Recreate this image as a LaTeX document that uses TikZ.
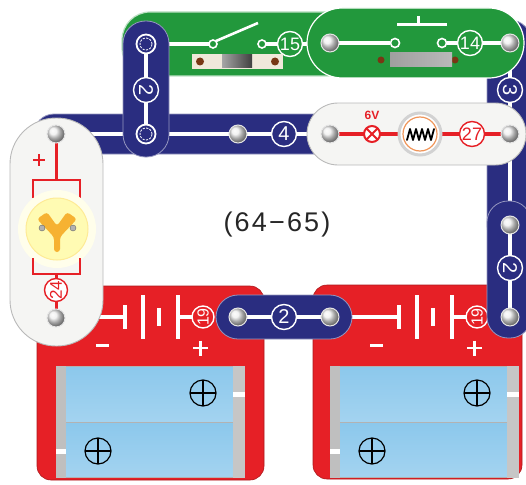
\documentclass[tikz,border=0pt]{standalone}
\usepackage{fontspec}
\setmainfont{Liberation Sans}
\definecolor{navy}{RGB}{42,45,128}
\definecolor{pgreen}{RGB}{34,152,60}
\definecolor{pred}{RGB}{230,32,38}
\definecolor{pwhite}{RGB}{245,245,243}
\definecolor{cellblue}{RGB}{140,200,236}
\definecolor{lampring}{RGB}{240,150,90}
\definecolor{fanorange}{RGB}{246,178,50}
\definecolor{beige}{RGB}{240,232,218}
\definecolor{rivet}{RGB}{120,55,20}
% metal snap seen from above
\newcommand{\silversnap}[1]{%
  \shadedraw[ball color=gray!14, draw=white!80!gray, line width=1pt] (#1) circle[radius=9pt];}
% snap ring on a piece that sits on top
\newcommand{\ringsnap}[1]{%
  \draw[white, line width=1.8pt, fill=navy] (#1) circle[radius=9.5pt];
  \draw[white, line width=0.8pt, dash pattern=on 2.2pt off 1.3pt] (#1) circle[radius=6pt];}
% polarity mark on a cell
\newcommand{\plusmark}[1]{%
  \draw[black, line width=1.2pt] (#1) circle[radius=13pt];
  \draw[black, line width=1.2pt] ($(#1)+(-13,0)$) -- ($(#1)+(13,0)$)
       ($(#1)+(0,-13)$) -- ($(#1)+(0,13)$);}
\usetikzlibrary{calc}
\begin{document}
\begin{tikzpicture}[x=1pt,y=-1pt,
  blueboard/.style={fill=navy, draw=navy!50!white, line width=0.8pt},
  greenboard/.style={fill=pgreen, draw=white!70!pgreen, line width=1.2pt},
  whiteboard/.style={fill=pwhite, draw=gray!55, line width=0.9pt},
  redboard/.style={fill=pred, draw=pred!75!black, line width=0.6pt},
  wtrace/.style={draw=white, line width=3.4pt},
  rtrace/.style={draw=pred, line width=3.4pt},
  badge/.style={circle, inner sep=0pt, minimum size=25pt, line width=1.4pt,
    font=\fontsize{20}{20}\selectfont},
  twodigit/.style={font=\fontsize{18}{18}\selectfont},
  bluebadge/.style={badge, draw=white, fill=navy, text=white},
  greenbadge/.style={badge, draw=white, fill=pgreen, text=white},
  redbadge/.style={badge, draw=pred, fill=white, text=pred},
  batbadge/.style={badge, draw=white, fill=pred, text=white, minimum size=22pt,
    font=\fontsize{16}{16}\selectfont},
]
\useasboundingbox (0,0) rectangle (526,484);

% ---------- battery holders (19) ----------
\draw[redboard, rounded corners=14pt] (37,286) rectangle (264,480);
\draw[redboard, rounded corners=14pt] (313,285) rectangle (522,479);
\foreach \bx/\nm in {56/left, 330/right}{
  \begin{scope}[shift={(\bx,0)}]
    % cells
    \fill[gray!60] (0,366) rectangle (189,478);
    \shade[top color=cellblue, middle color=white, bottom color=cellblue!80!white]
      (10,367) rectangle (177,421);
    \shade[top color=cellblue, middle color=white, bottom color=cellblue!80!white]
      (10,423) rectangle (177,476);
    \fill[gray!45] (177,366) rectangle (189,478);
    \fill[gray!50] (0,366) rectangle (10,478);
    \fill[white] (177,392) rectangle (189,397);
    \fill[white] (0,449) rectangle (10,454);
    \plusmark{147,393}
    \plusmark{42,451}
    % battery symbol
    \draw[wtrace] (0,317) -- (69,317);
    \draw[white, line width=4.5pt] (69,305) -- (69,329);
    \draw[white, line width=4.5pt] (87,295) -- (87,339);
    \draw[white, line width=4.5pt] (103,308) -- (103,326);
    \draw[white, line width=4.5pt] (122,295) -- (122,339);
    \draw[wtrace] (122,317) -- (136,317);
    \node[batbadge, rotate=90] (b19\nm) at (147,317) {19};
    \draw[white, line width=3pt] (40,345) -- (53,345);
    \draw[white, line width=2.6pt] (137,348) -- (152,348) (144.5,340.5) -- (144.5,355.5);
  \end{scope}
}

% ---------- right column, 3-piece ----------
\draw[blueboard, rounded corners=21pt] (487,20) rectangle (531,247);
\draw[wtrace] (510,43) -- (510,225);
\node[bluebadge, rotate=-90] (w3) at (510,90) {3};

% ---------- 4-piece ----------
\draw[blueboard, rounded corners=20pt] (34,114) rectangle (352,154);
\draw[wtrace] (56,134) -- (330,134);
\silversnap{238,134}
\node[bluebadge] (w4) at (284,134) {4};

% ---------- slide switch (15) ----------
\draw[greenboard, rounded corners=28pt] (122,12) rectangle (355,76);
\draw[wtrace] (146,44) -- (209,44);
\draw[white, line width=1.6pt] (213,44) circle[radius=4pt];
\draw[white, line width=2.6pt] (216,41) -- (258,23);
\draw[white, line width=1.6pt] (262,44) circle[radius=4pt];
\draw[wtrace] (266,44) -- (330,44);
\node[greenbadge, twodigit] (s15) at (290,44) {15};
\fill[beige] (192,54) rectangle (283,69);
\fill[rivet] (200,61.5) circle[radius=4pt];
\fill[rivet] (275,61.5) circle[radius=4pt];
\shade[left color=gray!70, right color=black!75] (222,55) rectangle (252,68);

% ---------- 2-piece, top left ----------
\draw[blueboard, rounded corners=22.5pt] (123,21) rectangle (169,157);
\draw[wtrace] (146,44) -- (146,134);
\ringsnap{146,44}
\ringsnap{146,134}
\node[bluebadge, rotate=-90] (w2a) at (146,90) {2};

% ---------- press switch (14) ----------
\draw[greenboard, draw=white, rounded corners=35pt] (307,8) rectangle (524,78);
\draw[wtrace] (330,43) -- (390,43);
\draw[white, line width=1.6pt] (395,43) circle[radius=4.5pt];
\draw[white, line width=1.6pt] (442,43) circle[radius=4.5pt];
\draw[wtrace] (447,43) -- (510,43);
\draw[white, line width=3pt] (397,25) -- (447,25);
\draw[white, line width=3pt] (418,16) -- (418,25);
\node[greenbadge, twodigit] (s14) at (470,43) {14};
\fill[rivet] (381,60) circle[radius=3.5pt];
\fill[rivet] (455,60) circle[radius=3.5pt];
\shade[left color=gray!75, middle color=white!90!gray, right color=gray!55] (390,53) rectangle (452,67);
\silversnap{330,43}
\silversnap{510,43}

% ---------- lamp / holder piece (27) ----------
\draw[whiteboard, rounded corners=31pt] (307,103) rectangle (526,165);
\draw[rtrace] (330,134) -- (400,134);
\draw[rtrace] (440,134) -- (510,134);
\draw[pred, line width=2pt, fill=white] (372,134) circle[radius=8pt];
\draw[pred, line width=2pt] (366.3,128.3) -- (377.7,139.7) (366.3,139.7) -- (377.7,128.3);
\node[text=pred, font=\bfseries\fontsize{12}{12}\selectfont] (v6) at (372,115) {6V};
\draw[gray!35, line width=3pt, fill=white] (420,134) circle[radius=21pt];
\draw[lampring, line width=1.2pt] (420,134) circle[radius=17pt];
\draw[black, line width=1.8pt, line join=round, line cap=round]
  (407,140) -- (410,129) -- (413,140) -- (416,129) -- (419,140) -- (422,129)
  -- (425,140) -- (428,129) -- (431,140) -- (434,129);
\node[redbadge, twodigit] (l27) at (472,134) {27};
\silversnap{330,134}
\silversnap{510,134}

% ---------- 2-piece, right ----------
\draw[blueboard, rounded corners=21pt] (487,201) rectangle (531,338);
\draw[wtrace] (510,225) -- (510,317);
\silversnap{510,225}
\silversnap{510,317}
\node[bluebadge, rotate=-90] (w2b) at (510,268) {2};

% ---------- 2-piece, bottom ----------
\draw[blueboard, rounded corners=22pt] (216,295) rectangle (352,339);
\draw[wtrace] (238,317) -- (330,317);
\silversnap{238,317}
\silversnap{330,317}
\node[bluebadge] (w2c) at (284,317) {2};

% ---------- motor (24) ----------
\draw[whiteboard, rounded corners=46pt] (10,118) rectangle (103,346);
\draw[pred, line width=3pt] (56,134) -- (56,180);
\draw[pred, line width=2.6pt] (33,198) -- (33,180) -- (80,180) -- (80,198);
\draw[pred, line width=2pt] (33,160) -- (45,160) (39,154) -- (39,166);
\fill[yellow!8!white] (57,229) circle[radius=39pt];
\draw[yellow!70!orange!40, line width=1pt, fill=yellow!30!white] (57,229) circle[radius=31pt];
\fill[fanorange, rounded corners=3pt]
  (54,252) -- (54,237) -- (37,219) -- (47,212) -- (57,226) -- (67,212) -- (77,219)
  -- (60,237) -- (60,252) -- cycle;
\draw[gray!80!black, fill=gray!60] (42,228) circle[radius=3pt];
\draw[gray!80!black, fill=gray!60] (73,228) circle[radius=3pt];
\draw[pred, line width=2.6pt] (33,258) -- (33,274) -- (80,274) -- (80,258);
\draw[pred, line width=3pt] (56,274) -- (56,279) (56,302) -- (56,318);
\node[redbadge, minimum size=23pt, font=\fontsize{17}{17}\selectfont, rotate=90] (m24) at (56,290) {24};
\silversnap{56,134}
\silversnap{56,318}

% ---------- project numbers ----------
\node[text=black!85] (proj) at (277,225)
  {\fontsize{27}{27}\selectfont\addfontfeature{LetterSpace=8}(64−65)};
\end{tikzpicture}
\end{document}
